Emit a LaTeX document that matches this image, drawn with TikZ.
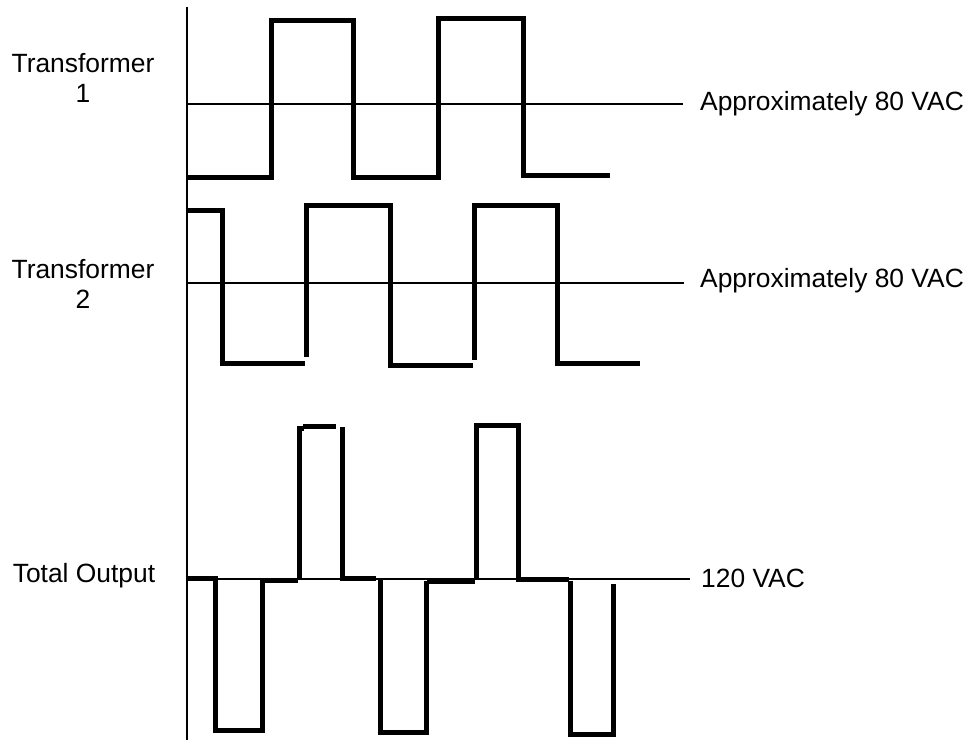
\documentclass[tikz,border=0pt]{standalone}
\usepackage{fontspec}
\setmainfont{Liberation Sans}
\begin{document}
\begin{tikzpicture}[x=1bp,y=-1bp,
  wave/.style={line width=5bp,line cap=butt,line join=miter},
  thin/.style={line width=1.8bp},
  lbl/.style={font=\fontsize{26.5}{31}\selectfont,inner sep=0pt,align=center},
  vlbl/.style={font=\fontsize{26.5}{31}\selectfont,inner sep=0pt,anchor=west}]
\useasboundingbox (0,0) rectangle (969,740);
% axis
\coordinate (axtop) at (187,7);
\coordinate (axbot) at (187,740);
\draw[thin] (axtop) -- (axbot);
% labels left
\node[lbl] (t1) at (83,78) {Transformer\\1};
\node[lbl] (t2) at (83,284) {Transformer\\2};
\node[lbl] (tot) at (84,576) {Total Output};
% value labels
\node[vlbl] (v1) at (700,104) {Approximately 80 VAC};
\node[vlbl] (v2) at (700,281) {Approximately 80 VAC};
\node[vlbl] (v3) at (701,578) {120 VAC};
% centerlines
\coordinate (c1) at (187,104);
\coordinate (c2) at (187,283);
\coordinate (c3) at (187,579);
\draw[thin] (c1) -- ([xshift=-17bp]v1.west |- c1);
\draw[thin] (c2) -- ([xshift=-16bp]v2.west |- c2);
\draw[thin] (c3) -- ([xshift=-11bp]v3.west |- c3);
% transformer 1
\draw[wave] (187,177) -- (271,177) -- (271,21) -- (353,21) -- (353,177) -- (438,177)
  -- (438,19) -- (523,19) -- (523,175) -- (610,175);
% transformer 2
\draw[wave] (187,210) -- (222,210) -- (222,363) -- (305,363);
\draw[wave] (306,357) -- (306,205) -- (390,205) -- (390,365) -- (473,365);
\draw[wave] (474,360) -- (474,205) -- (557,205) -- (557,363) -- (640,363);
% total output
\draw[wave] (187,578) -- (215,578) -- (215,730) -- (262,730) -- (262,580);
\draw[wave] (265,580) -- (298,580);
\draw[wave] (299,578) -- (299,428) -- (304,428);
\draw[wave] (303,426) -- (336,426);
\draw[wave] (342,427) -- (342,578) -- (376,578);
\draw[wave] (380,580) -- (380,732) -- (426,732) -- (426,581);
\draw[wave] (427,581) -- (475,581);
\draw[wave] (476,579) -- (476,425) -- (518,425) -- (518,579) -- (569,579);
\draw[wave] (570,581) -- (570,734) -- (613,734) -- (613,584);
\end{tikzpicture}
\end{document}
